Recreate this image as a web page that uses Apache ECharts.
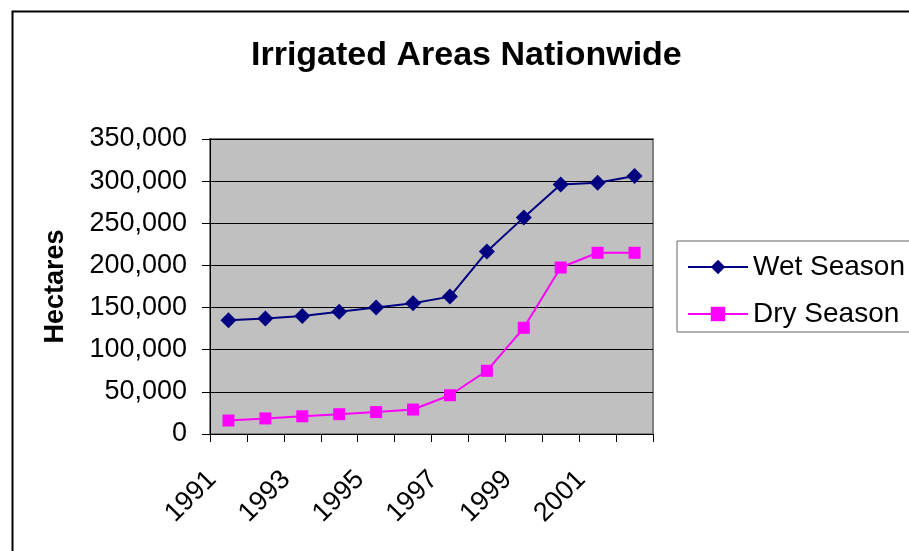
<!DOCTYPE html>
<html>
<head>
<meta charset="utf-8">
<script src="https://cdn.jsdelivr.net/npm/echarts@6/dist/echarts.min.js"></script>
<style>
html,body{margin:0;padding:0;background:#fff;}
#chart{width:909px;height:551px;}
</style>
</head>
<body>
<div id="chart"></div>
<script>
var years = ['1991','1992','1993','1994','1995','1996','1997','1998','1999','2000','2001','2002'];
var wetSeason = [135000, 137000, 140000, 145000, 150000, 155000, 163000, 216500, 257000, 296000, 298000, 306000];
var drySeason = [16000, 18500, 21000, 23500, 26000, 29000, 46000, 75000, 126000, 197500, 215000, 215000];
var yTicks = {min: 0, max: 350000, interval: 50000};

var font = "'Liberation Sans', Arial, sans-serif";
var chart = echarts.init(document.getElementById('chart'), null, {renderer: 'canvas'});
chart.setOption({
  animation: false,
  backgroundColor: '#ffffff',
  textStyle: {fontFamily: font, color: '#000'},
  graphic: [{
    type: 'rect', left: 10, top: 9, z: -1,
    shape: {width: 1000, height: 1000},
    style: {fill: 'none', stroke: '#000', lineWidth: 2}
  }],
  title: {
    text: 'Irrigated Areas Nationwide',
    left: 251, top: 39, padding: 0,
    textStyle: {fontFamily: font, fontSize: 34, fontWeight: 'bold', color: '#000'}
  },
  legend: {
    left: 677, top: 241,
    orient: 'vertical',
    padding: [12, 40, 4, 10],
    itemWidth: 60, itemHeight: 18, itemGap: 19,
    borderColor: '#666', borderWidth: 1,
    textStyle: {fontFamily: font, fontSize: 28, color: '#000'},
    data: ['Wet Season', 'Dry Season']
  },
  grid: {
    left: 210, right: 256, top: 139, bottom: 117,
    show: true, backgroundColor: '#C0C0C0', borderColor: '#808080', borderWidth: 2
  },
  xAxis: {
    type: 'category',
    data: years,
    boundaryGap: true,
    axisLine: {lineStyle: {color: '#000', width: 1}},
    axisTick: {show: true, length: 8, interval: 0, lineStyle: {color: '#000'}},
    axisLabel: {
      interval: 1, rotate: 45, margin: 25,
      padding: [0, 23, 0, 0],
      fontFamily: font, fontSize: 27, color: '#000'
    },
    splitLine: {show: false}
  },
  yAxis: {
    type: 'value',
    min: yTicks.min, max: yTicks.max, interval: yTicks.interval,
    name: 'Hectares',
    nameLocation: 'middle', nameRotate: 90, nameGap: 141,
    nameTextStyle: {fontFamily: font, fontSize: 27, fontWeight: 'bold', color: '#000'},
    axisLine: {show: true, lineStyle: {color: '#000', width: 1}},
    axisTick: {show: true, length: 8, lineStyle: {color: '#000'}},
    axisLabel: {
      margin: 23, fontFamily: font, fontSize: 27, color: '#000',
      formatter: function (v) { return v.toLocaleString('en-US'); }
    },
    splitLine: {show: true, lineStyle: {color: '#000', width: 1}}
  },
  series: [{
    name: 'Wet Season',
    type: 'line',
    data: wetSeason,
    symbol: 'diamond', symbolSize: 16,
    lineStyle: {color: '#000080', width: 2},
    itemStyle: {color: '#000080'}
  }, {
    name: 'Dry Season',
    type: 'line',
    data: drySeason,
    symbol: 'rect', symbolSize: 12,
    lineStyle: {color: '#FF00FF', width: 2},
    itemStyle: {color: '#FF00FF'}
  }]
});
</script>
</body>
</html>
